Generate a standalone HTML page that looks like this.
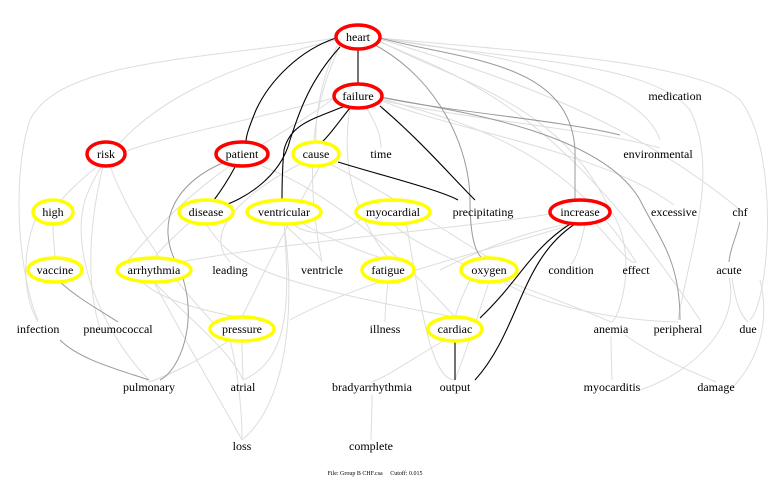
<!DOCTYPE html>
<html><head><meta charset="utf-8"><style>
html,body{margin:0;padding:0;background:#fff;}
svg{display:block}
</style></head><body>
<svg width="780" height="485" viewBox="0 0 780 485" xmlns="http://www.w3.org/2000/svg">
<g fill="none" stroke="#ddd" stroke-width="1">
<path d="M336,38 C200,60 60,60 30,120 C10,180 20,280 38,320"/>
<path d="M336,40 C250,60 120,100 85,200 C70,250 100,330 149,380"/>
<path d="M338,44 C320,80 315,120 316,142"/>
<path d="M340,45 C320,90 300,150 322,262"/>
<path d="M380,38 C500,50 700,60 740,100 C780,150 770,300 750,320"/>
<path d="M380,38 C500,60 650,60 690,110 C720,170 690,250 678,320"/>
<path d="M380,38 C500,55 640,80 660,140"/>
<path d="M378,40 C450,80 560,100 610,210 C640,250 620,320 611,322"/>
<path d="M380,39 C480,70 620,110 740,210"/>
<path d="M380,42 C470,80 560,110 700,320"/>
<path d="M380,100 C450,130 600,150 674,205"/>
<path d="M380,100 C470,120 600,130 660,148"/>
<path d="M380,98 C450,120 560,140 636,262"/>
<path d="M334,98 C250,120 150,140 125,152"/>
<path d="M334,98 C280,140 210,160 120,270"/>
<path d="M366,107 C380,130 381,140 381,148"/>
<path d="M350,108 C345,140 340,200 393,264"/>
<path d="M98,166 C80,180 65,195 60,202"/>
<path d="M103,166 C90,220 85,280 100,329"/>
<path d="M110,166 C130,220 170,280 230,340 C240,380 242,420 242,438"/>
<path d="M53,224 C53,240 55,252 55,258"/>
<path d="M35,220 C20,260 25,300 38,322"/>
<path d="M300,164 C250,190 200,230 230,262"/>
<path d="M320,166 C290,220 270,260 242,317"/>
<path d="M330,164 C400,200 460,240 489,258"/>
<path d="M206,224 C230,260 250,280 455,317"/>
<path d="M190,222 C170,240 160,250 154,258"/>
<path d="M284,224 C290,300 290,360 243,380 M284,224 C295,300 290,400 242,440"/>
<path d="M284,224 C300,240 320,255 322,262"/>
<path d="M300,222 C330,240 370,255 388,260"/>
<path d="M393,224 C430,260 540,290 611,322"/>
<path d="M154,282 C190,320 230,350 243,380"/>
<path d="M154,282 C190,350 220,400 242,440"/>
<path d="M140,280 C160,300 200,310 242,318"/>
<path d="M242,341 C242,360 243,370 243,380"/>
<path d="M230,340 C200,360 170,375 149,382"/>
<path d="M388,282 C386,300 385,315 385,322"/>
<path d="M470,280 C460,300 457,310 455,317"/>
<path d="M500,280 C530,300 600,320 678,322"/>
<path d="M489,282 C480,310 470,340 455,380"/>
<path d="M445,340 C410,360 390,375 372,382"/>
<path d="M372,395 C372,420 371,432 371,440"/>
<path d="M611,336 C611,360 612,370 612,380"/>
<path d="M625,335 C660,360 700,375 716,382"/>
<path d="M732,278 C735,300 740,315 748,322"/>
<path d="M729,278 C740,320 700,370 640,390"/>
<path d="M760,280 C770,320 760,360 730,390"/>
<path d="M600,214 C540,240 380,270 290,320"/>
<path d="M550,214 C450,230 300,240 180,262"/>
<path d="M594,222 C620,250 630,265 636,262"/>
<path d="M585,224 C580,250 574,262 571,264"/>
<path d="M370,212 C340,240 300,240 280,212"/>
<path d="M406,222 C420,300 430,380 455,380"/>
<path d="M262,166 C350,200 420,280 455,317"/>
<path d="M440,270 C500,240 560,220 600,222"/>
</g>
<g fill="none" stroke="#999" stroke-width="1">
<path d="M380,38 C460,60 570,60 575,150 L575,200"/>
<path d="M375,45 C440,80 470,150 470,200 C470,250 480,260 489,262"/>
<path d="M380,97 C450,110 600,130 640,200 C660,240 680,260 680,320"/>
<path d="M225,162 C180,180 150,220 180,270 C200,320 180,370 160,380"/>
<path d="M60,282 C80,300 100,310 118,322"/>
<path d="M60,340 C80,360 120,370 149,380"/>
<path d="M740,222 C735,240 730,250 729,262"/>
<path d="M380,97 C450,112 560,120 620,135"/>
</g>
<g fill="none" stroke="#000" stroke-width="1.1">
<path d="M358,49 L358,84"/>
<path d="M336,38 C300,50 270,80 256,110 C250,125 246,135 246,142"/>
<path d="M340,47 C310,80 300,110 290,140 C280,180 240,200 225,205"/>
<path d="M350,108 C340,120 330,135 322,142"/>
<path d="M345,106 C310,120 290,125 284,150 C282,170 282,190 282,200"/>
<path d="M380,106 C420,140 450,175 475,200"/>
<path d="M338,162 C380,175 440,190 458,200"/>
<path d="M235,167 C228,180 220,192 214,200"/>
<path d="M570,224 C530,250 520,280 480,318"/>
<path d="M575,224 C520,260 520,330 475,380"/>
<path d="M455,341 L455,380"/>
</g>
<g fill="#fff" stroke-width="3.5">
<ellipse cx="358" cy="37" rx="22" ry="12" stroke="#f00"/>
<ellipse cx="358" cy="96" rx="24" ry="12" stroke="#f00"/>
<ellipse cx="106" cy="154" rx="19" ry="12" stroke="#f00"/>
<ellipse cx="242" cy="154" rx="26" ry="12" stroke="#f00"/>
<ellipse cx="316" cy="154" rx="23" ry="12" stroke="#ff0"/>
<ellipse cx="53" cy="212" rx="20" ry="12" stroke="#ff0"/>
<ellipse cx="206" cy="212" rx="27" ry="12" stroke="#ff0"/>
<ellipse cx="284" cy="212" rx="37" ry="12" stroke="#ff0"/>
<ellipse cx="393" cy="212" rx="37" ry="12" stroke="#ff0"/>
<ellipse cx="580" cy="212" rx="30" ry="12" stroke="#f00"/>
<ellipse cx="55" cy="270" rx="27" ry="12" stroke="#ff0"/>
<ellipse cx="154" cy="270" rx="37" ry="12" stroke="#ff0"/>
<ellipse cx="388" cy="270" rx="26" ry="12" stroke="#ff0"/>
<ellipse cx="489" cy="270" rx="28" ry="12" stroke="#ff0"/>
<ellipse cx="242" cy="329" rx="32" ry="12" stroke="#ff0"/>
<ellipse cx="455" cy="329" rx="27" ry="12" stroke="#ff0"/>
</g>
<g font-family="'Liberation Serif', 'DejaVu Serif', serif" font-size="12" text-anchor="middle" fill="#000">
<text x="358" y="41">heart</text>
<text x="358" y="100">failure</text>
<text x="675" y="100">medication</text>
<text x="106" y="158">risk</text>
<text x="242" y="158">patient</text>
<text x="316" y="158">cause</text>
<text x="381" y="158">time</text>
<text x="658" y="158">environmental</text>
<text x="53" y="216">high</text>
<text x="206" y="216">disease</text>
<text x="284" y="216">ventricular</text>
<text x="393" y="216">myocardial</text>
<text x="483" y="216">precipitating</text>
<text x="580" y="216">increase</text>
<text x="674" y="216">excessive</text>
<text x="740" y="216">chf</text>
<text x="55" y="274">vaccine</text>
<text x="154" y="274">arrhythmia</text>
<text x="230" y="274">leading</text>
<text x="322" y="274">ventricle</text>
<text x="388" y="274">fatigue</text>
<text x="489" y="274">oxygen</text>
<text x="571" y="274">condition</text>
<text x="636" y="274">effect</text>
<text x="729" y="274">acute</text>
<text x="38" y="333">infection</text>
<text x="118" y="333">pneumococcal</text>
<text x="242" y="333">pressure</text>
<text x="385" y="333">illness</text>
<text x="455" y="333">cardiac</text>
<text x="611" y="333">anemia</text>
<text x="678" y="333">peripheral</text>
<text x="748" y="333">due</text>
<text x="149" y="391">pulmonary</text>
<text x="243" y="391">atrial</text>
<text x="372" y="391">bradyarrhythmia</text>
<text x="455" y="391">output</text>
<text x="612" y="391">myocarditis</text>
<text x="716" y="391">damage</text>
<text x="242" y="450">loss</text>
<text x="371" y="450">complete</text>
<text x="375" y="475" font-size="6">File: Group B CHF.csa &#160;&#160;&#160; Cutoff: 0.015</text>
</g>
</svg>
</body></html>
